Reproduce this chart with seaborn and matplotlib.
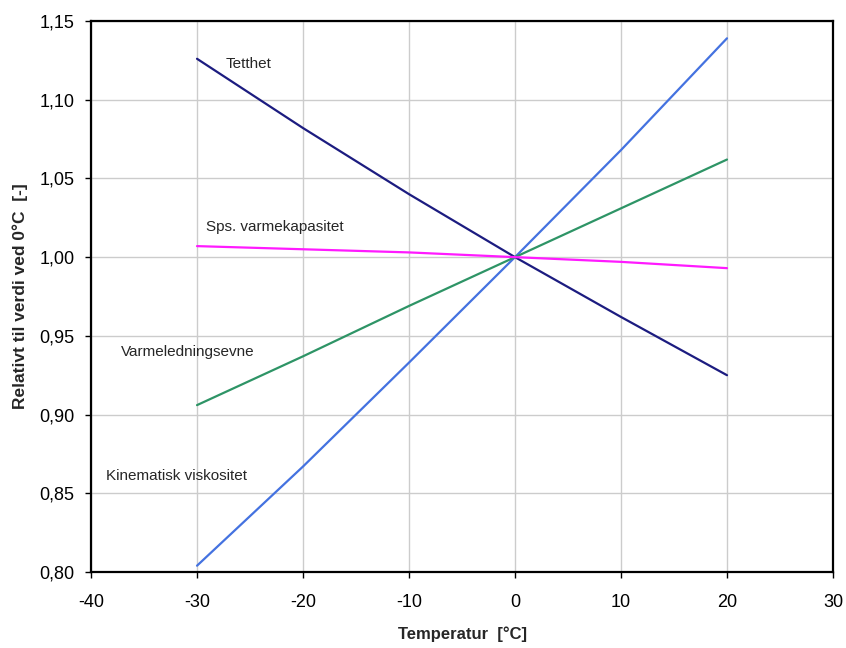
import pandas as pd
import matplotlib.pyplot as plt
import seaborn as sns

# Values (relative to value at 0 degC)
temperature = [-30, -20, -10, 0, 10, 20]
tetthet = [1.126, 1.082, 1.040, 1.000, 0.962, 0.925]
kin_viskositet = [0.804, 0.867, 0.933, 1.000, 1.068, 1.139]
varmeledning = [0.906, 0.937, 0.969, 1.000, 1.031, 1.062]
varmekapasitet = [1.007, 1.005, 1.003, 1.000, 0.997, 0.993]

series = {
    'Tetthet': tetthet,
    'Kinematisk viskositet': kin_viskositet,
    'Varmeledningsevne': varmeledning,
    'Sps. varmekapasitet': varmekapasitet,
}
colors = {
    'Tetthet': '#1c1c80',
    'Kinematisk viskositet': '#4472e0',
    'Varmeledningsevne': '#2e9466',
    'Sps. varmekapasitet': '#ff1aff',
}

df = pd.concat([pd.DataFrame({'Temp': temperature, 'Verdi': v, 'Egenskap': k})
                for k, v in series.items()])

sns.set_style('white')
plt.rcParams['font.family'] = ['Liberation Sans', 'DejaVu Sans']
plt.rcParams['axes.unicode_minus'] = False

fig, ax = plt.subplots(figsize=(8.46, 6.48), dpi=100)
fig.subplots_adjust(left=0.1076, right=0.9846, top=0.9676, bottom=0.1173)

sns.lineplot(data=df, x='Temp', y='Verdi', hue='Egenskap', palette=colors,
             linewidth=1.6, legend=False, ax=ax)

# Line labels
ax.text(-27.3, 1.1225, 'Tetthet', fontsize=11, va='center')
ax.text(-29.2, 1.019, 'Sps. varmekapasitet', fontsize=11, va='center')
ax.text(-37.2, 0.940, 'Varmeledningsevne', fontsize=11, va='center')
ax.text(-38.6, 0.861, 'Kinematisk viskositet', fontsize=11, va='center')

ax.set_xlim(-40, 30)
ax.set_ylim(0.80, 1.15)
ax.set_xticks(range(-40, 31, 10))
yticks = [0.80, 0.85, 0.90, 0.95, 1.00, 1.05, 1.10, 1.15]
ax.set_yticks(yticks)
ax.set_yticklabels([f'{t:.2f}'.replace('.', ',') for t in yticks])
ax.tick_params(axis='both', labelsize=13, length=4, width=1, direction='out',
               colors='black', left=True, bottom=True)
ax.tick_params(axis='x', pad=12)
ax.tick_params(axis='y', pad=8)
ax.grid(True, color='#cccccc', linewidth=1)
ax.set_axisbelow(True)
for sp in ax.spines.values():
    sp.set_color('black')
    sp.set_linewidth(1.6)

ax.set_xlabel('Temperatur  [°C]', fontsize=12, fontweight='bold', labelpad=11)
ax.set_ylabel('Relativt til verdi ved 0°C  [-]', fontsize=12.5, fontweight='bold', labelpad=8)

plt.savefig('out.png', dpi=100)
